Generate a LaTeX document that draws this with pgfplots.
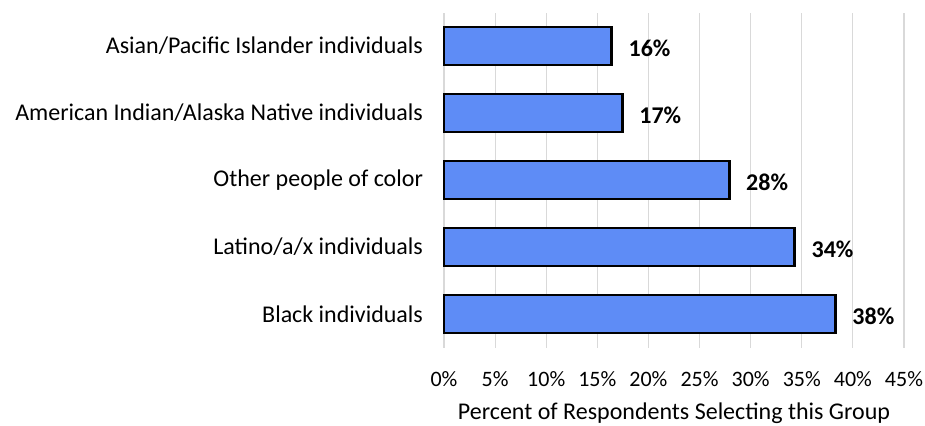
\documentclass[border=0pt]{standalone}
\usepackage{pgfplots}
\pgfplotsset{compat=1.18}
\usepackage{fontspec}
\setmainfont{Carlito}
\definecolor{barblue}{RGB}{94,140,246}
\definecolor{gridgray}{RGB}{217,217,217}
\begin{document}
\begin{tikzpicture}[font=\fontsize{12}{14}\selectfont]
\useasboundingbox (0,0) rectangle (462.5pt,212.5pt);
\begin{axis}[
  at={(222pt,38.75pt)}, anchor=south west,
  scale only axis, width=230pt, height=167.5pt,
  xbar, bar width=19pt,
  xmin=0, xmax=45, ymin=-0.5, ymax=4.5,
  xtick={0,5,...,45},
  xticklabels={0\%,5\%,10\%,15\%,20\%,25\%,30\%,35\%,40\%,45\%},
  ytick={0,1,2,3,4},
  yticklabels={Black individuals,Latino/a/x individuals,Other people of color,American Indian/Alaska Native individuals,Asian/Pacific Islander individuals},
  axis line style={draw=none},
  major tick length=0pt,
  xmajorgrids, grid style={gridgray, line width=0.6pt},
  xticklabel style={font=\fontsize{11}{13}\selectfont, yshift=-8.5pt},
  yticklabel style={xshift=-7pt},
  xlabel={Percent of Respondents Selecting this Group},
  xlabel style={font=\fontsize{12}{14}\selectfont, yshift=-1pt},
  nodes near coords, point meta=explicit symbolic,
  nodes near coords style={font=\fontsize{12}{14}\selectfont\bfseries, anchor=west, xshift=4.5pt, yshift=-1pt},
  clip=false,
]
\addplot[fill=barblue, draw=black, line width=1.3pt] coordinates {
  (38.3,0) [38\%]
  (34.3,1) [34\%]
  (27.9,2) [28\%]
  (17.45,3) [17\%]
  (16.4,4) [16\%]
};
\end{axis}
\end{tikzpicture}
\end{document}
